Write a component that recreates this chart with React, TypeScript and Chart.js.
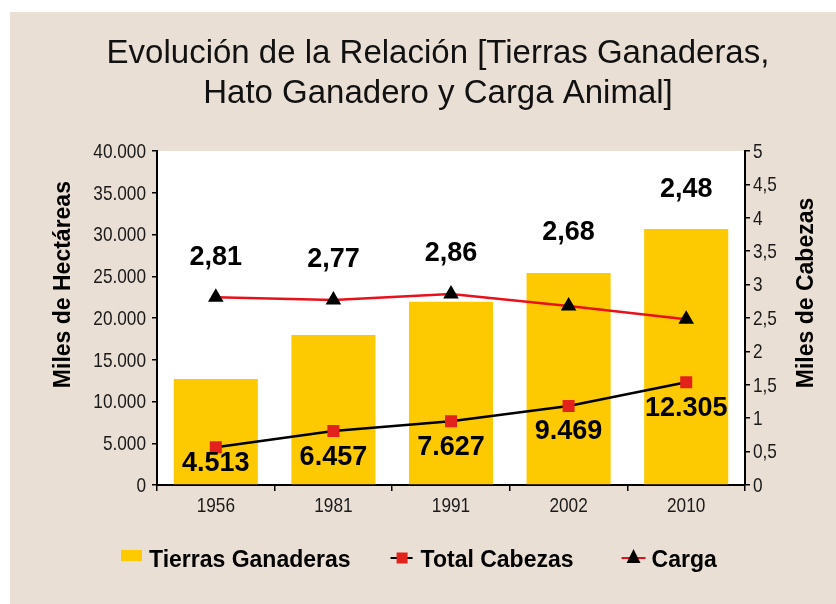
import React, { useEffect, useRef } from 'react';
import { Chart, registerables } from 'chart.js';

Chart.register(...registerables);

const years = ['1956', '1981', '1991', '2002', '2010'];
const tierrasGanaderas = [12700, 17950, 21950, 25400, 30650];
const totalCabezas = [4513, 6457, 7627, 9469, 12305];
const carga = [2.81, 2.77, 2.86, 2.68, 2.48];
const titleLines = ['Evolución de la Relación [Tierras Ganaderas,', 'Hato Ganadero y Carga Animal]'];
const leftAxisTitle = 'Miles de Hectáreas';
const rightAxisTitle = 'Miles de Cabezas';
const seriesNames = ['Tierras Ganaderas', 'Total Cabezas', 'Carga'];

const BEIGE = '#eadfd5';
const YELLOW = '#fdc900';
const RED = '#e3231b';
const LINE_RED = '#e8101a';
const SANS = '"Liberation Sans", Arial, Helvetica, sans-serif';
const NARROW_SCALE = 0.82;

const fmtThousands = (v: number) => {
  const s = Math.round(v).toString();
  return s.replace(/\B(?=(\d{3})+(?!\d))/g, '.');
};
const fmtDec = (v: number, d: number) => v.toFixed(d).replace('.', ',');
const fmtRight = (v: number) => (Math.abs(v % 1) < 1e-9 ? String(Math.round(v)) : fmtDec(v, 1));

const plotBg = {
  id: 'plotBg',
  beforeDraw(chart: any) {
    const { ctx, chartArea } = chart;
    ctx.save();
    ctx.fillStyle = '#ffffff';
    ctx.fillRect(chartArea.left, chartArea.top, chartArea.right - chartArea.left, chartArea.bottom - chartArea.top);
    ctx.restore();
  },
};

// Tick labels drawn in a narrow (horizontally condensed) face, positioned from the library's scales
const narrowTicks = {
  id: 'narrowTicks',
  afterDraw(chart: any) {
    const { ctx, chartArea } = chart;
    const sx = chart.scales.x;
    const sy = chart.scales.y;
    const sy1 = chart.scales.y1;
    ctx.save();
    ctx.font = `21px ${SANS}`;
    ctx.fillStyle = '#1a1a1a';
    const draw = (text: string, x: number, y: number, align: CanvasTextAlign, base: CanvasTextBaseline) => {
      ctx.save();
      ctx.translate(x, y);
      ctx.scale(NARROW_SCALE, 1);
      ctx.textAlign = align;
      ctx.textBaseline = base;
      ctx.fillText(text, 0, 0);
      ctx.restore();
    };
    sx.ticks.forEach((_t: any, i: number) => {
      draw(years[i], sx.getPixelForTick(i), chartArea.bottom + 27, 'center', 'alphabetic');
    });
    sy.ticks.forEach((t: any) => {
      draw(fmtThousands(t.value), sy.right - 11, sy.getPixelForValue(t.value) + 1, 'right', 'middle');
    });
    sy1.ticks.forEach((t: any) => {
      draw(fmtRight(t.value), sy1.left + 8, sy1.getPixelForValue(t.value) + 1, 'left', 'middle');
    });
    ctx.restore();
  },
};

const valueLabels = {
  id: 'valueLabels',
  afterDatasetsDraw(chart: any) {
    const { ctx, chartArea } = chart;
    const bars = chart.getDatasetMeta(0).data;
    const heads = chart.getDatasetMeta(1).data;
    const loads = chart.getDatasetMeta(2).data;
    ctx.save();
    ctx.font = `bold 27px ${SANS}`;
    ctx.fillStyle = '#000';
    ctx.textAlign = 'center';
    ctx.textBaseline = 'middle';
    for (let i = 0; i < years.length; i++) {
      const p = loads[i];
      const b = bars[i];
      const y1 = Math.min(p.y, b.y) - 40;
      ctx.fillText(fmtDec(carga[i], 2), p.x, y1);
      const q = heads[i];
      const y2 = Math.min(q.y + 26, chartArea.bottom - 21);
      ctx.fillText(fmtThousands(totalCabezas[i]), q.x, y2);
    }
    ctx.restore();
  },
};

const axisTitles = {
  id: 'axisTitles',
  afterDraw(chart: any) {
    const { ctx, chartArea } = chart;
    const h = chartArea.bottom - chartArea.top;
    ctx.save();
    ctx.font = `bold 23px ${SANS}`;
    ctx.fillStyle = '#000';
    ctx.textAlign = 'center';
    ctx.textBaseline = 'middle';
    ctx.translate(54, chartArea.top + h * 0.4);
    ctx.rotate(-Math.PI / 2);
    ctx.fillText(leftAxisTitle, 0, 0);
    ctx.restore();
    ctx.save();
    ctx.font = `bold 23px ${SANS}`;
    ctx.fillStyle = '#000';
    ctx.textAlign = 'center';
    ctx.textBaseline = 'middle';
    ctx.translate(chart.width - 29, chartArea.top + h * 0.425);
    ctx.rotate(-Math.PI / 2);
    ctx.fillText(rightAxisTitle, 0, 0);
    ctx.restore();
  },
};

const customLegend = {
  id: 'customLegend',
  afterDraw(chart: any) {
    const { ctx } = chart;
    const baseY = 555;
    const midY = 546;
    ctx.save();
    ctx.font = `bold 23px ${SANS}`;
    ctx.textAlign = 'left';
    ctx.textBaseline = 'alphabetic';
    let x = 111;
    ctx.fillStyle = YELLOW;
    ctx.fillRect(x, 538, 21, 11);
    ctx.fillStyle = '#000';
    ctx.fillText(seriesNames[0], x + 28, baseY);
    x = x + 28 + ctx.measureText(seriesNames[0]).width + 40;
    ctx.strokeStyle = '#000';
    ctx.lineWidth = 2;
    ctx.beginPath();
    ctx.moveTo(x, midY);
    ctx.lineTo(x + 22, midY);
    ctx.stroke();
    ctx.fillStyle = RED;
    ctx.fillRect(x + 6, midY - 5.5, 11, 11);
    ctx.fillStyle = '#000';
    ctx.fillText(seriesNames[1], x + 30, baseY);
    x = x + 30 + ctx.measureText(seriesNames[1]).width + 48;
    ctx.strokeStyle = LINE_RED;
    ctx.lineWidth = 2;
    ctx.beginPath();
    ctx.moveTo(x, midY);
    ctx.lineTo(x + 24, midY);
    ctx.stroke();
    ctx.fillStyle = '#000';
    ctx.beginPath();
    ctx.moveTo(x + 12, midY - 9);
    ctx.lineTo(x + 19, midY + 5);
    ctx.lineTo(x + 5, midY + 5);
    ctx.closePath();
    ctx.fill();
    ctx.fillText(seriesNames[2], x + 30, baseY);
    ctx.restore();
  },
};

export default function App() {
  const ref = useRef<HTMLCanvasElement | null>(null);

  useEffect(() => {
    if (!ref.current) return;
    const chart = new Chart(ref.current, {
      type: 'bar',
      data: {
        labels: years,
        datasets: [
          {
            type: 'bar',
            label: seriesNames[0],
            data: tierrasGanaderas,
            backgroundColor: YELLOW,
            borderWidth: 0,
            barPercentage: 0.715,
            categoryPercentage: 1,
            yAxisID: 'y',
            order: 3,
          },
          {
            type: 'line',
            label: seriesNames[1],
            data: totalCabezas,
            borderColor: '#000',
            borderWidth: 2.5,
            pointStyle: 'rect',
            pointRadius: 8.5,
            pointBackgroundColor: RED,
            pointBorderColor: RED,
            pointBorderWidth: 0,
            yAxisID: 'y',
            order: 2,
          } as any,
          {
            type: 'line',
            label: seriesNames[2],
            data: carga,
            borderColor: LINE_RED,
            borderWidth: 2.5,
            pointStyle: 'triangle',
            pointRadius: 9,
            pointBackgroundColor: '#000',
            pointBorderColor: '#000',
            pointBorderWidth: 0,
            yAxisID: 'y1',
            order: 1,
          } as any,
        ],
      },
      options: {
        animation: false,
        responsive: false,
        layout: { padding: { left: 30, right: 0, top: 0, bottom: 0 } },
        plugins: {
          legend: { display: false },
          tooltip: { enabled: false },
          title: {
            display: true,
            text: titleLines,
            color: '#111',
            font: { family: SANS, size: 33, weight: 'normal', lineHeight: 40 / 33 },
            padding: { top: 22, bottom: 37 },
          },
        },
        scales: {
          x: {
            afterFit: (s: any) => { s.height = 119; },
            grid: { drawOnChartArea: false, offset: true, color: '#000', tickLength: 6, lineWidth: 1.5 },
            border: { color: '#000', width: 2 },
            ticks: { display: false },
          },
          y: {
            position: 'left',
            min: 0,
            max: 40000,
            afterFit: (s: any) => { s.width = 117; },
            grid: { drawOnChartArea: false, color: '#000', tickLength: 5, lineWidth: 1.5 },
            border: { color: '#000', width: 2 },
            ticks: { stepSize: 5000, display: false },
          },
          y1: {
            position: 'right',
            min: 0,
            max: 5,
            afterFit: (s: any) => { s.width = 91; },
            grid: { drawOnChartArea: false, color: '#000', tickLength: 5, lineWidth: 1.5 },
            border: { color: '#000', width: 2 },
            ticks: { stepSize: 0.5, display: false },
          },
        },
      },
      plugins: [plotBg, valueLabels, narrowTicks, axisTitles, customLegend],
    });
    return () => chart.destroy();
  }, []);

  return (
    <div style={{ position: 'absolute', left: 10, top: 12, width: 826, height: 592, background: BEIGE }}>
      <canvas ref={ref} width={826} height={592} style={{ display: 'block' }} />
    </div>
  );
}
